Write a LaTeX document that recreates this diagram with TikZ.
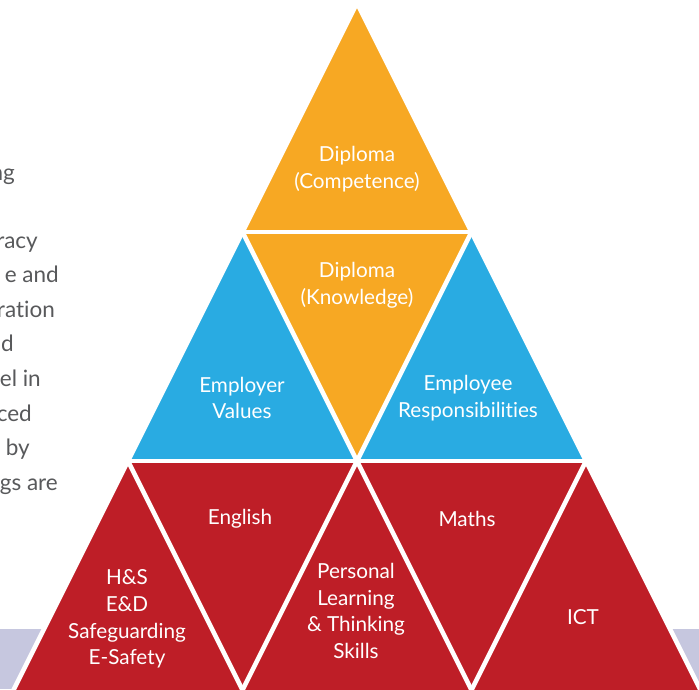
\documentclass[tikz,border=0pt]{standalone}
\usepackage{fontspec}
\setmainfont[Ligatures=NoCommon]{Lato}
\definecolor{dipcol}{HTML}{F7A823}
\definecolor{empcol}{HTML}{29ABE2}
\definecolor{skillcol}{HTML}{BE1E27}
\definecolor{bandcol}{HTML}{C6C7DF}
\definecolor{textcol}{HTML}{58595B}
\tikzset{every label text/.style={text=white,align=center,inner sep=0pt,
           font=\fontsize{20.7}{26.7}\selectfont},
         sidetext/.style={text=textcol,inner sep=0pt,anchor=base east,
           font=\fontsize{22.5}{34}\selectfont},
         gap/.style={draw=white,line width=4.5pt,line join=round}}

\begin{document}
\begin{tikzpicture}[x=1pt,y=-1pt]
        \useasboundingbox(0,0)rectangle(699,689);
        \fill[bandcol](0,629)rectangle(699,689);

        \coordinate(top)at(357,3);
        \coordinate(l1)at(242.5,232);
        \coordinate(r1)at(471.5,232);
        \coordinate(l2)at(128,461);
        \coordinate(m2)at(357,461);
        \coordinate(r2)at(586,461);
        \coordinate(l3)at(13.5,690);
        \coordinate(a3)at(242.5,690);
        \coordinate(b3)at(471.5,690);
        \coordinate(r3)at(700.5,690);

        \fill[dipcol](top)--(l1)--(r1)--cycle;
        \fill[dipcol](l1)--(r1)--(m2)--cycle;
        \fill[empcol](l1)--(l2)--(m2)--cycle;
        \fill[empcol](r1)--(m2)--(r2)--cycle;
        \fill[skillcol](l2)--(l3)--(r3)--(r2)--cycle;

        \draw[gap](top)--(l3);
        \draw[gap](top)--(r3);
        \draw[gap](l1)--(r1);
        \draw[gap](l2)--(r2);
        \draw[gap](l1)--(b3);
        \draw[gap](r1)--(a3);
        \draw[gap](l2)--(a3);
        \draw[gap](r2)--(b3);

        \node[every label text](competence)at(357,169){Diploma\\(Competence)};
        \node[every label text](knowledge)at(357,285){Diploma\\(Knowledge)};
        \node[every label text](values)at(242,398){Employer\\Values};
        \node[every label text](resp)at(468,398){Employee\\Responsibilities};
        \node[every label text](english)at(240,519){English};
        \node[every label text](maths)at(467,519){Maths};
        \node[every label text](safety)at(127,619){H\&S\\E\&D\\Safeguarding\\E-Safety};
        \node[every label text](plts)at(356,611){Personal\\Learning\\\& Thinking\\Skills};
        \node[every label text](ict)at(583,617){ICT};

        \node[sidetext](s1)at(15,180){ng};
        \node[sidetext](s2)at(38,248){racy};
        \node[sidetext](s3)at(59,282){e and};
        \node[sidetext](s4)at(55,317){ration};
        \node[sidetext](s5)at(14,351){d};
        \node[sidetext](s6)at(41,386){el in};
        \node[sidetext](s7)at(32,421){ced};
        \node[sidetext](s8)at(30,455){by};
        \node[sidetext](s9)at(58,490){gs are};
    \end{tikzpicture}
\end{document}
